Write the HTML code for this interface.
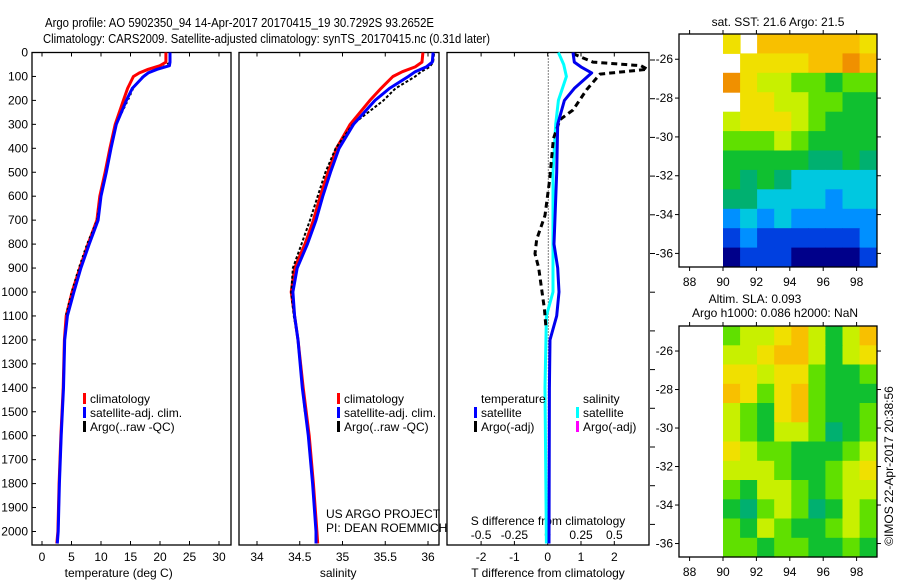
<!DOCTYPE html>
<html><head><meta charset="utf-8"><style>
html,body{margin:0;padding:0;background:#fff;}
svg{display:block;font-family:"Liberation Sans",sans-serif;}
text{fill:#000;}
</style></head><body>
<svg id="fig" width="900" height="580" viewBox="0 0 900 580" xmlns="http://www.w3.org/2000/svg">
<text x="45" y="27" font-size="13" textLength="389" lengthAdjust="spacingAndGlyphs">Argo profile: AO 5902350_94 14-Apr-2017 20170415_19 30.7292S 93.2652E</text>
<text x="43" y="43" font-size="13" textLength="447" lengthAdjust="spacingAndGlyphs">Climatology: CARS2009. Satellite-adjusted climatology: synTS_20170415.nc (0.31d later)</text>
<g id="g"></g>
</svg>
<script>
// ---- profile data ----
const tDepth = [0,40,55,70,85,100,150,200,300,400,500,600,700,800,900,1000,1100,1200,1400,1600,1800,2000,2050];
const tClim  = [21.0,21.0,20.0,18.0,16.5,15.5,14.5,13.8,12.4,11.5,10.7,9.8,9.3,7.8,6.4,5.1,4.1,3.8,3.6,3.2,2.9,2.7,2.5];
const tSat   = [21.7,21.7,21.6,19.5,18.0,17.2,15.3,14.3,12.6,11.7,10.9,10.0,9.5,8.0,6.6,5.4,4.3,3.85,3.65,3.25,2.95,2.75,2.6];
const tArgoDepth = [5,40,60,80,100,150,200,300,400,500,600,700,800,900,1000,1100];
const tArgo  = [21.8,21.7,20.5,18.2,17.0,15.5,14.6,12.6,11.7,10.8,9.9,9.3,7.6,6.2,5.0,4.0];
const sDepth = [0,40,60,80,100,150,200,300,400,500,600,700,800,900,1000,1100,1200,1400,1600,1800,2000,2050];
const sClim  = [35.94,35.93,35.85,35.70,35.59,35.45,35.32,35.09,34.93,34.83,34.74,34.66,34.56,34.44,34.40,34.44,34.48,34.54,34.61,34.66,34.70,34.71];
const sSat   = [36.06,36.05,35.98,35.85,35.77,35.55,35.38,35.13,34.96,34.86,34.77,34.69,34.59,34.47,34.42,34.44,34.48,34.53,34.60,34.65,34.69,34.69];
const sArgoDepth = [5,40,60,80,100,150,200,300,400,500,600,700,800,900,1000,1100,1200,1300,1400,1500];
const sArgo  = [36.07,36.06,36.02,35.92,35.85,35.62,35.48,35.12,34.92,34.80,34.71,34.62,34.52,34.42,34.40,34.43,34.48,34.51,34.53,34.56];
// ---- difference data ----
const dtSatDepth = [0,40,60,85,150,200,300,500,800,900,1000,1100,1200,1400,2050];
const dtSat  = [0.76,0.8,1.0,1.32,0.8,0.5,0.3,0.27,0.19,0.3,0.34,0.27,0.07,0.05,0.04];
const dsSatDepth = [0,50,100,200,300,500,800,1000,1100,1400,2050];
const dsSat  = [0.08,0.12,0.14,0.08,0.06,0.04,0.04,0.04,-0.01,-0.02,-0.01];
const dtArgoDepth = [5,40,55,70,90,155,240,280,360,530,680,780,840,900,990,1070,1150];
const dtArgo = [0.76,1.36,2.8,3.0,1.57,1.17,0.76,0.37,0.17,0.06,-0.08,-0.33,-0.38,-0.27,-0.18,-0.1,-0.05];
// ---- ticks ----
const depthTicks = [0,100,200,300,400,500,600,700,800,900,1000,1100,1200,1300,1400,1500,1600,1700,1800,1900,2000];
const tTicks = [0,5,10,15,20,25,30];
const sTicks = [34,34.5,35,35.5,36];
const sTickLabels = ["34","34.5","35","35.5","36"];
const dtTicks = [-2,-1,0,1,2];
const dsTicks = [-0.5,-0.25,0,0.25,0.5];
const dsTickLabels = ["-0.5","-0.25","0","0.25","0.5"];
// ---- maps ----
const lonTicks = [88,90,92,94,96,98];
const latTicks = [-26,-28,-30,-32,-34,-36];
const sstGrid = [
 [8,-1,9,9,9,9,9,9,8],
 [-1,8,8,8,8,9,9,10,9],
 [10,8,7,7,6,6,5,6,6],
 [-1,8,8,7,7,6,6,5,5],
 [7,8,8,8,7,6,5,5,5],
 [6,6,6,7,6,5,5,5,5],
 [5,5,5,5,5,4,4,5,4],
 [5,4,5,4,3,3,3,3,3],
 [4,4,3,3,3,3,2,3,3],
 [2,3,2,3,2,2,2,2,2],
 [1,2,1,1,1,1,1,1,2],
 [0,1,1,1,0,0,0,0,1]];
const slaGrid = [
 [6,7,7,8,9,7,5,7,9],
 [7,7,8,9,9,7,5,7,8],
 [8,8,7,8,8,6,5,5,6],
 [9,8,6,8,9,6,5,5,5],
 [7,6,5,8,9,6,5,5,6],
 [7,6,5,7,7,6,4,5,6],
 [8,7,6,6,5,5,5,6,7],
 [7,7,7,6,5,5,6,7,8],
 [6,5,7,7,6,5,6,7,7],
 [5,4,6,7,6,4,5,7,6],
 [6,5,7,6,5,5,6,7,6],
 [6,6,5,6,6,5,5,6,5]];
const palette = ["#00008a","#0040e0","#0090ff","#00c8e0","#00b070","#10c030","#60e000","#c8f000","#f0e000","#f8c000","#f09000"];

const NS="http://www.w3.org/2000/svg";
const G=document.getElementById('g');
function el(tag,attrs,parent){const e=document.createElementNS(NS,tag);for(const k in attrs)e.setAttribute(k,attrs[k]);(parent||G).appendChild(e);return e;}
function txt(x,y,s,size,anchor,parent){const t=el('text',{x:x,y:y,'font-size':size||12,'text-anchor':anchor||'start'},parent);t.textContent=s;return t;}

const Y0=52.5, YT=545;
const yD=d=>Y0+d*0.2395;
const xT=v=>42+5.9*v;
const xS=v=>257+85.5*(v-34);
const xDT=v=>547.7+33.3*v;
const xDS=v=>547.7+133.3*v;

function stepPath(xs,ds,fx){let p='';for(let i=0;i<xs.length;i++){const X=fx(xs[i]).toFixed(1),Yv=yD(ds[i]).toFixed(1);p+=(i?'L':'M')+X+' '+Yv;}return p;}

const panels=[[32,231],[239,439],[447,649]];
panels.forEach((p,i)=>{
  const r=el('rect',{x:p[0],y:Y0,width:p[1]-p[0],height:YT-Y0,fill:'none',stroke:'#000','stroke-width':1.3});
  
  
});
// depth axis
depthTicks.forEach(d=>{
  const y=yD(d);
  el('line',{x1:32,y1:y,x2:36,y2:y,stroke:'#000'});
  const t=txt(28,y+4,String(d),12,'end');
  
  
});
// right side ticks of panel3
depthTicks.filter((d,i)=>i%2===0).forEach(d=>{});
for(let k=0;k<13;k++){const y=60+k*38.7;if(y<YT)el('line',{x1:650,y1:y,x2:655,y2:y,stroke:'#000'});}
// panel1 ticks
tTicks.forEach(v=>{const x=xT(v);el('line',{x1:x,y1:Y0,x2:x,y2:Y0+4,stroke:'#000'});el('line',{x1:x,y1:YT,x2:x,y2:YT-4,stroke:'#000'});
  const t=txt(x,561,String(v),12,'middle');});
sTicks.forEach((v,i)=>{const x=xS(v);el('line',{x1:x,y1:Y0,x2:x,y2:Y0+4,stroke:'#000'});el('line',{x1:x,y1:YT,x2:x,y2:YT-4,stroke:'#000'});
  const t=txt(x,561,sTickLabels[i],12,'middle');});
dtTicks.forEach(v=>{const x=xDT(v);el('line',{x1:x,y1:Y0,x2:x,y2:Y0+4,stroke:'#000'});el('line',{x1:x,y1:YT,x2:x,y2:YT-4,stroke:'#000'});
  const t=txt(x,561,String(v),12,'middle');});
dsTicks.forEach((v,i)=>{const x=xDS(v);const t=txt(x,539,dsTickLabels[i],12,'middle');});
// axis titles
[[xT(13),577,'temperature (deg C)','x-axis-title-temperature'],[xS(34.95),577,'salinity','x-axis-title-salinity'],[548,577,'T difference from climatology','x-axis-title-t-diff'],[548,525,'S difference from climatology','x-axis-title-s-diff']].forEach(a=>{
  const t=txt(a[0],a[1],a[2],12,'middle');});
// zero dotted line
el('line',{x1:548.3,y1:Y0,x2:548.3,y2:YT,stroke:'#000','stroke-dasharray':'1 2','stroke-width':1});

function series(xs,ds,fx,color,w,name,dash){
  const a={d:stepPath(xs,ds,fx),fill:'none',stroke:color,'stroke-width':w,'stroke-linejoin':'round'};
  if(dash)a['stroke-dasharray']=dash;
  const p=el('path',a);
  
  
}
series(tClim,tDepth,xT,'#f00',3,'temperature-climatology-line');
series(tArgo,tArgoDepth,xT,'#000',1.5,'temperature-argo-line','2 3');
series(tSat,tDepth,xT,'#00f',3,'temperature-satellite-line');
series(sClim,sDepth,xS,'#f00',3,'salinity-climatology-line');
series(sArgo,sArgoDepth,xS,'#000',2,'salinity-argo-line','3 2');
series(sSat,sDepth,xS,'#00f',3,'salinity-satellite-line');
series(dsSat,dsSatDepth,xDS,'#00ffff',3,'s-diff-satellite-line');
series(dtArgo,dtArgoDepth,xDT,'#000',3,'t-diff-argo-line','6 4');
series(dtSat,dtSatDepth,xDT,'#0000ee',3,'t-diff-satellite-line');

// legends
function leg(x,y,color,label,name){
  const r=el('rect',{x:x,y:y-10,width:3,height:11,fill:color});
  
  const t=txt(x+7,y,label,12);
}
leg(83,403,'#f00','climatology','legend-entry-climatology');
leg(83,417,'#00f','satellite-adj. clim.','legend-entry-satellite-adj');
leg(83,431,'#000','Argo(..raw -QC)','legend-entry-argo');
leg(337,403,'#f00','climatology','legend-entry-climatology-s');
leg(337,417,'#00f','satellite-adj. clim.','legend-entry-satellite-adj-s');
leg(337,431,'#000','Argo(..raw -QC)','legend-entry-argo-s');
let t=txt(481,403,'temperature',12);
t=txt(583,403,'salinity',12);
leg(474,417,'#00f','satellite','legend-entry-t-satellite');
leg(474,431,'#000','Argo(-adj)','legend-entry-t-argo');
leg(576,417,'#00ffff','satellite','legend-entry-s-satellite');
leg(576,431,'#ff00ff','Argo(-adj)','legend-entry-s-argo');
t=txt(326,518,'US ARGO PROJECT',12);
t=txt(326,532,'PI: DEAN ROEMMICH',12);

// maps
function drawMap(grid,top,bottom,name){
  const L=679,R=877;
  const xL=v=>723+(v-90)*16.7;
  const latTop=-24.7, latBot=-36.7;
  const yL=v=>top+(latTop-v)/(latTop-latBot)*(bottom-top);
  const rows=grid.length, cols=grid[0].length;
  const lonW=(99.2-90)/cols, latH=(latTop-latBot)/rows;
  grid.forEach((row,ri)=>row.forEach((v,ci)=>{
    if(v<0)return;
    const x0=xL(90+ci*lonW), x1=xL(90+(ci+1)*lonW);
    const y0=yL(latTop-ri*latH), y1=yL(latTop-(ri+1)*latH);
    const c=el('rect',{x:x0.toFixed(1),y:y0.toFixed(1),width:(x1-x0+0.5).toFixed(1),height:(y1-y0+0.5).toFixed(1),fill:palette[v]});
    
    
  }));
  const b=el('rect',{x:L,y:top,width:R-L,height:bottom-top,fill:'none',stroke:'#000','stroke-width':1.3});
  
  lonTicks.forEach(v=>{const x=xL(v);el('line',{x1:x,y1:bottom,x2:x,y2:bottom+4,stroke:'#000'});el('line',{x1:x,y1:top,x2:x,y2:top-4,stroke:'#000'});
    const tt=txt(x,bottom+19,String(v),12,'middle');});
  latTicks.forEach(v=>{const y=yL(v);el('line',{x1:L-4,y1:y,x2:L,y2:y,stroke:'#000'});el('line',{x1:R,y1:y,x2:R+4,y2:y,stroke:'#000'});
    const tt=txt(L-6,y+4,String(v),12,'end');});
}
drawMap(sstGrid,34,267,'sst-map');
drawMap(slaGrid,326,557,'sla-map');
t=txt(778,26,'sat. SST: 21.6 Argo: 21.5',12,'middle');
t=txt(755,303,'Altim. SLA: 0.093',12,'middle');
t=txt(775,317,'Argo h1000: 0.086 h2000: NaN',12,'middle');
t=txt(0,0,'©IMOS 22-Apr-2017 20:38:56',12,'middle');
t.setAttribute('transform','translate(893,466) rotate(-90)');

</script>
</body></html>
